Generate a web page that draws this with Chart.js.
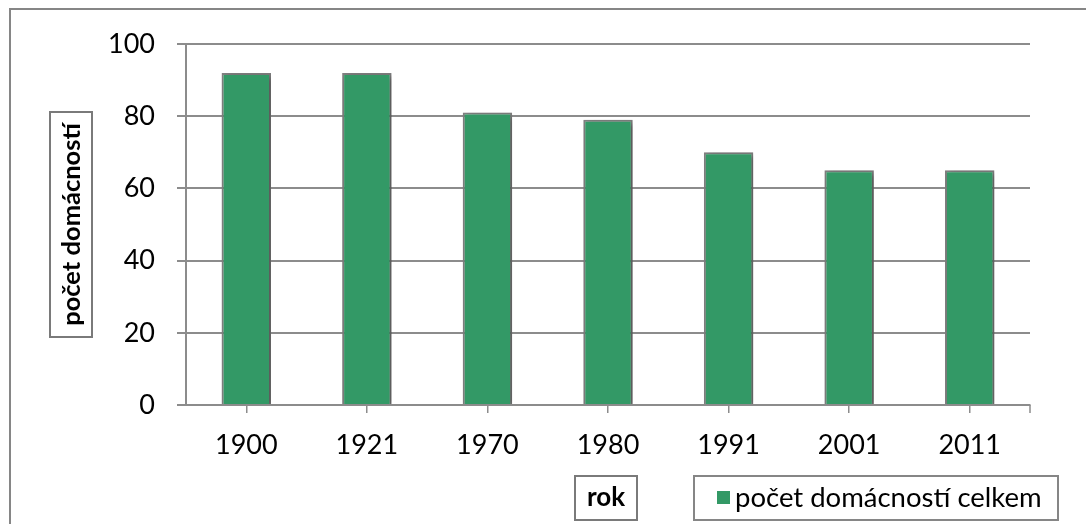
<!doctype html>
<html>
<head>
  <meta charset="utf-8" />
  <title>počet domácností</title>
  <script src="https://cdn.jsdelivr.net/npm/chart.js"></script>
  <style>
    html, body { margin: 0; padding: 0; background: #fff; overflow: hidden; }
    #wrap { width: 1086px; height: 524px; position: relative; }
  </style>
</head>
<body>
  <div id="wrap"><canvas id="chart" width="1086" height="524"></canvas></div>

<script>
  const years = ['1900', '1921', '1970', '1980', '1991', '2001', '2011'];
  const households = [92, 92, 81, 79, 70, 65, 65];
  const seriesLabel = 'počet domácností celkem';
  const yTitle = 'počet domácností';
  const xTitle = 'rok';

  const FONT = 'Lato, "Open Sans", sans-serif';
  const GRID = '#8c8c8c';

  // stin pod sloupci
  const shadowPlugin = {
    id: 'shadow',
    beforeDatasetDraw(chart) {
      const ctx = chart.ctx;
      ctx.save();
      ctx.shadowColor = 'rgba(0,0,0,0.35)';
      ctx.shadowBlur = 6;
      ctx.shadowOffsetX = 3;
      ctx.shadowOffsetY = 2;
    },
    afterDatasetDraw(chart) {
      chart.ctx.restore();
    }
  };

  // ramecky: okraj grafu, popisky os, legenda
  const boxesPlugin = {
    id: 'boxes',
    afterDraw(chart) {
      const ctx = chart.ctx;
      const area = chart.chartArea;
      ctx.save();

      // vnejsi ramecek
      ctx.strokeStyle = '#868686';
      ctx.lineWidth = 2;
      ctx.strokeRect(10, 9, 1200, 700);

      // koncova znacka osy x
      ctx.lineWidth = 1.5;
      ctx.strokeStyle = GRID;
      ctx.beginPath();
      ctx.moveTo(area.right, area.bottom);
      ctx.lineTo(area.right, area.bottom + 8);
      ctx.stroke();

      // popisek osy y
      ctx.strokeStyle = '#7a7a7a';
      ctx.lineWidth = 2;
      ctx.strokeRect(50, 112, 42, 225);
      ctx.save();
      ctx.translate(72, 224.5);
      ctx.rotate(-Math.PI / 2);
      ctx.fillStyle = '#000';
      ctx.font = 'bold 25.5px ' + FONT;
      ctx.textAlign = 'center';
      ctx.textBaseline = 'middle';
      ctx.fillText(yTitle, 0, 0);
      ctx.restore();

      // popisek osy x
      ctx.strokeRect(575, 476, 62, 44);
      ctx.fillStyle = '#000';
      ctx.font = 'bold 26px ' + FONT;
      ctx.textAlign = 'center';
      ctx.textBaseline = 'middle';
      ctx.fillText(xTitle, 606, 498);

      // legenda
      ctx.strokeStyle = '#868686';
      ctx.strokeRect(694, 476, 364, 44);
      const ds = chart.data.datasets[0];
      ctx.fillStyle = ds.backgroundColor;
      ctx.fillRect(717, 491, 13, 13);
      ctx.fillStyle = '#000';
      ctx.font = '27.5px ' + FONT;
      ctx.textAlign = 'left';
      ctx.fillText(ds.label, 735, 498);

      ctx.restore();
    }
  };

  const ctx = document.getElementById('chart').getContext('2d');
  new Chart(ctx, {
    type: 'bar',
    data: {
      labels: years,
      datasets: [{
        label: seriesLabel,
        data: households,
        backgroundColor: '#339966',
        borderColor: '#808080',
        borderWidth: 2,
        barPercentage: 0.41,
        categoryPercentage: 1.0
      }]
    },
    options: {
      responsive: false,
      animation: false,
      layout: { padding: { left: 0, top: 44, right: 56, bottom: 0 } },
      plugins: {
        legend: { display: false },
        tooltip: { enabled: false }
      },
      scales: {
        x: {
          afterFit(scale) { scale.height = 119; },
          grid: {
            offset: false,
            drawOnChartArea: false,
            drawTicks: true,
            tickLength: 8,
            color: GRID,
            lineWidth: 1.5
          },
          border: { color: GRID, width: 2 },
          ticks: {
            color: '#000',
            padding: 16,
            font: { family: FONT, size: 27 }
          }
        },
        y: {
          min: 0,
          max: 100,
          afterFit(scale) { scale.width = 186; },
          grid: {
            color: GRID,
            lineWidth: 2,
            tickLength: 9
          },
          border: { color: GRID, width: 2 },
          ticks: {
            stepSize: 20,
            color: '#000',
            padding: 22,
            font: { family: FONT, size: 27 }
          }
        }
      }
    },
    plugins: [shadowPlugin, boxesPlugin]
  });
</script>
</body>
</html>
